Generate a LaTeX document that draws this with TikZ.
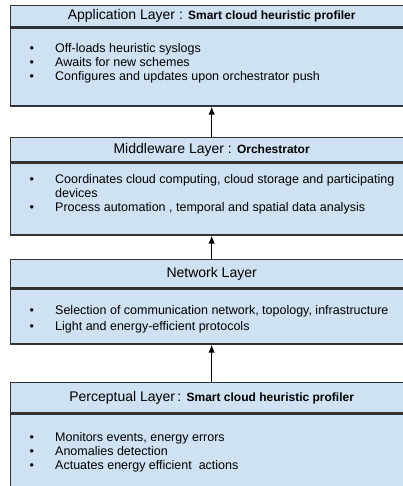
\documentclass[tikz,border=0pt]{standalone}
\usepackage{fontspec}
\setmainfont{Liberation Sans}
\usetikzlibrary{arrows.meta}
\definecolor{layerfill}{HTML}{CFE2F3}
\definecolor{layerline}{HTML}{333333}
\newcommand{\layeritems}[1]{\begin{tabular}[t]{@{}p{25.5pt}@{}l@{}}#1\end{tabular}}
\newcommand{\dotmark}{\textbullet}

\begin{document}
\begin{tikzpicture}[x=1pt,y=-1pt,
    layerhead/.style={draw=layerline, line width=1.3pt, fill=layerfill, anchor=north west,
        minimum width=402pt, inner sep=0pt, font=\fontsize{14}{16}\selectfont},
    layerbody/.style={draw=layerline, line width=1.3pt, fill=layerfill, anchor=north west,
        minimum width=402pt, inner sep=0pt},
    itemlist/.style={anchor=base west, inner sep=0pt, font=\fontsize{12.5}{14}\selectfont},
    uparrow/.style={line width=1.3pt, -{Latex[length=8pt,width=6.5pt]}}]
        \useasboundingbox (0,0) rectangle (403,486);
        \clip (0,0) rectangle (403,486);
        % application layer
        \node[layerhead, minimum height=21pt] (apphead) at (10,5)
            {Application Layer : \textbf{\fontsize{12}{14}\selectfont Smart cloud heuristic profiler}};
        \node[layerbody, minimum height=78pt] (appbody) at (apphead.south west) {};
        \node[itemlist] (applist) at (29.5,53) {\layeritems{
            \dotmark & Off-loads heuristic syslogs\\
            \dotmark & Awaits for new schemes\\
            \dotmark & Configures and updates upon orchestrator push}};
        % middleware layer
        \node[layerhead, minimum height=24pt] (mwhead) at (10,137)
            {Middleware Layer : \textbf{\fontsize{12}{14}\selectfont Orchestrator}};
        \node[layerbody, minimum height=72pt] (mwbody) at (mwhead.south west) {};
        \node[itemlist] (mwlist) at (29.5,183) {\layeritems{
            \dotmark & Coordinates cloud computing, cloud storage and participating\\
                     & devices\\
            \dotmark & Process automation , temporal and spatial data analysis}};
        % network layer
        \node[layerhead, minimum height=28pt] (nethead) at (10,259) {Network Layer};
        \node[layerbody, minimum height=55pt] (netbody) at (nethead.south west) {};
        \node[itemlist] (netlist) at (29.5,314) {\layeritems{
            \dotmark & Selection of communication network, topology, infrastructure\\[2pt]
            \dotmark & Light and energy-efficient protocols}};
        % perceptual layer
        \node[layerhead, minimum height=30pt] (perhead) at (10,382)
            {Perceptual Layer\,: \textbf{\fontsize{12}{14}\selectfont Smart cloud heuristic profiler}};
        \node[layerbody, minimum height=73pt] (perbody) at (perhead.south west) {};
        \node[itemlist] (perlist) at (29.5,441) {\layeritems{
            \dotmark & Monitors events, energy errors\\
            \dotmark & Anomalies detection\\
            \dotmark & Actuates energy efficient\ \ actions}};
        % arrows between layers
        \draw[uparrow] (perhead.north) -- (netbody.south);
        \draw[uparrow] (nethead.north) -- (mwbody.south);
        \draw[uparrow] (mwhead.north) -- (appbody.south);
    \end{tikzpicture}
\end{document}
